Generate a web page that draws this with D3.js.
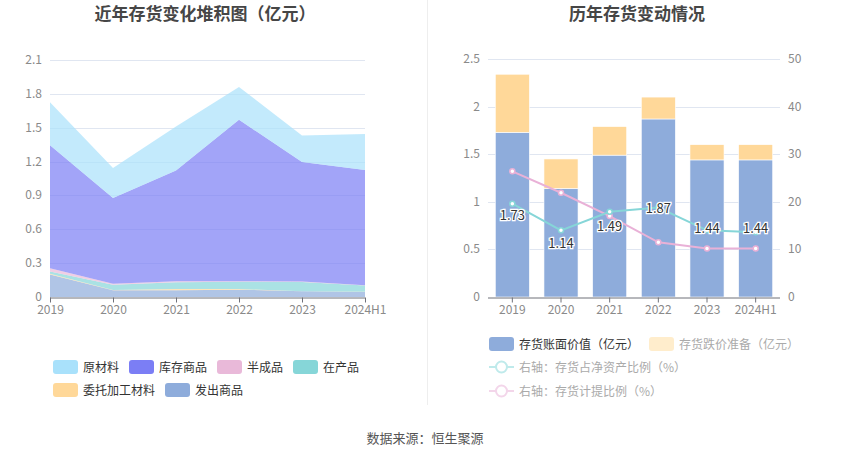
<!DOCTYPE html>
<html>
<head>
<meta charset="utf-8">
<script src="https://cdn.jsdelivr.net/npm/d3@7"></script>
<style>
  body { margin: 0; background: #fff; }
  svg text { font-family: "Noto Sans CJK SC", "Noto Sans", sans-serif; }
</style>
</head>
<body>
<div id="chart"></div>
<script>
// categories
var years = ["2019", "2020", "2021", "2022", "2023", "2024H1"];

// left chart: stacked inventory composition (亿元), bottom to top
var fachu = [0.20, 0.06, 0.06, 0.065, 0.05, 0.045];      // 发出商品
var weituo = [0.005, 0.003, 0.01, 0.005, 0.002, 0.002];  // 委托加工材料
var zaichan = [0.02, 0.045, 0.06, 0.065, 0.08, 0.055];   // 在产品
var banchengpin = [0.03, 0.01, 0.01, 0.005, 0.005, 0.003]; // 半成品
var kucun = [1.09, 0.76, 0.98, 1.43, 1.06, 1.02];        // 库存商品
var yuancailiao = [0.38, 0.265, 0.39, 0.29, 0.235, 0.32]; // 原材料
var leftTicks = [0, 0.3, 0.6, 0.9, 1.2, 1.5, 1.8, 2.1];

// right chart
var bookValue = [1.73, 1.14, 1.49, 1.87, 1.44, 1.44];    // 存货账面价值
var reserve = [0.61, 0.31, 0.30, 0.23, 0.16, 0.16];      // 存货跌价准备
var ratioNetAsset = [19.6, 14.0, 17.9, 18.8, 14.0, 13.6]; // 存货占净资产比例
var ratioReserve = [26.4, 21.9, 17.0, 11.5, 10.2, 10.2];  // 存货计提比例
var rightTicksL = [0, 0.5, 1, 1.5, 2, 2.5];
var rightTicksR = [0, 10, 20, 30, 40, 50];

var W = 850, H = 459;
var svg = d3.select("#chart").append("svg")
    .attr("width", W)
    .attr("height", H);

// titles
svg.append("text").attr("x", 205).attr("y", 20).attr("text-anchor", "middle")
  .style("font-size", "17px").style("font-weight", "bold").style("fill", "#464646")
  .text("近年存货变化堆积图（亿元）");
svg.append("text").attr("x", 637).attr("y", 20).attr("text-anchor", "middle")
  .style("font-size", "17px").style("font-weight", "bold").style("fill", "#464646")
  .text("历年存货变动情况");

// divider
svg.append("line").attr("x1", 427.5).attr("x2", 427.5).attr("y1", 0).attr("y2", 405)
  .style("stroke", "#eeeeee");

// ---------- left chart ----------
var series = [
  {name: "发出商品", color: "#8eacdb", values: fachu},
  {name: "委托加工材料", color: "#ffd899", values: weituo},
  {name: "在产品", color: "#86d6d8", values: zaichan},
  {name: "半成品", color: "#e9b9d9", values: banchengpin},
  {name: "库存商品", color: "#7b7ef5", values: kucun},
  {name: "原材料", color: "#a9e1fb", values: yuancailiao}
];

var table = years.map(function(y, i) {
  var row = {year: y};
  series.forEach(function(s) { row[s.name] = s.values[i]; });
  return row;
});

var stack = d3.stack().keys(series.map(function(s) { return s.name; }));
var stacked = stack(table);

var xL = d3.scalePoint().domain(years).range([50, 365]);
var yL = d3.scaleLinear().domain([0, 2.1]).range([297, 60]);

var gL = svg.append("g");

gL.selectAll(".gridL")
  .data(leftTicks.slice(1))
 .enter()
  .append("line")
  .attr("x1", 50).attr("x2", 365)
  .attr("y1", function(d) { return Math.round(yL(d)) + 0.5; })
  .attr("y2", function(d) { return Math.round(yL(d)) + 0.5; })
  .style("stroke", "#e0e6f1");

var area = d3.area()
  .x(function(d) { return xL(d.data.year); })
  .y0(function(d) { return yL(d[0]); })
  .y1(function(d) { return yL(d[1]); });

gL.selectAll(".layer")
  .data(stacked)
 .enter()
  .append("path")
  .attr("d", area)
  .style("fill", function(d, i) { return series[i].color; })
  .style("fill-opacity", 0.7);

gL.selectAll(".ylab")
  .data(leftTicks)
 .enter()
  .append("text")
  .attr("x", 42)
  .attr("y", function(d) { return yL(d) + 4; })
  .attr("text-anchor", "end")
  .style("font-size", "12px").style("fill", "#8a8a8a")
  .text(function(d) { return d; });

var xAxisL = d3.axisBottom(xL).tickSize(5).tickPadding(3);
gL.append("g")
  .attr("transform", "translate(0,297.5)")
  .call(xAxisL)
  .call(function(g) {
    g.select(".domain").style("stroke", "#6e7079").attr("d", "M50,0.5H365");
    g.selectAll(".tick line").style("stroke", "#6e7079");
    g.selectAll("text").style("font-size", "12px").style("fill", "#8a8a8a")
      .style("font-family", "'Noto Sans CJK SC', sans-serif");
  });

// left legend
var legL = [
  {name: "原材料", color: "#a9e1fb", x: 53, y: 367},
  {name: "库存商品", color: "#7b7ef5", x: 129, y: 367},
  {name: "半成品", color: "#e9b9d9", x: 217, y: 367},
  {name: "在产品", color: "#86d6d8", x: 293, y: 367},
  {name: "委托加工材料", color: "#ffd899", x: 53, y: 390},
  {name: "发出商品", color: "#8eacdb", x: 165, y: 390}
];
var lg = svg.selectAll(".legL").data(legL).enter().append("g");
lg.append("rect")
  .attr("x", function(d) { return d.x; })
  .attr("y", function(d) { return d.y - 7; })
  .attr("width", 25).attr("height", 14).attr("rx", 3)
  .style("fill", function(d) { return d.color; });
lg.append("text")
  .attr("x", function(d) { return d.x + 30; })
  .attr("y", function(d) { return d.y + 4.5; })
  .style("font-size", "12px").style("fill", "#333")
  .text(function(d) { return d.name; });

// ---------- right chart ----------
var xR = d3.scaleBand().domain(years).range([488, 780]).paddingInner(0.3).paddingOuter(0.15);
var xRc = function(y) { return xR(y) + xR.bandwidth() / 2; };
var yR = d3.scaleLinear().domain([0, 2.5]).range([297, 59]);
var yR2 = d3.scaleLinear().domain([0, 50]).range([297, 59]);

var gR = svg.append("g");

gR.selectAll(".gridR")
  .data(rightTicksL.slice(1))
 .enter()
  .append("line")
  .attr("x1", 488).attr("x2", 780)
  .attr("y1", function(d) { return Math.round(yR(d)) + 0.5; })
  .attr("y2", function(d) { return Math.round(yR(d)) + 0.5; })
  .style("stroke", "#e0e6f1");

gR.selectAll(".barBook")
  .data(bookValue)
 .enter()
  .append("rect")
  .attr("x", function(d, i) { return xR(years[i]); })
  .attr("width", xR.bandwidth())
  .attr("y", function(d) { return yR(d); })
  .attr("height", function(d) { return yR(0) - yR(d); })
  .style("fill", "#8eacdb")
  .style("stroke", "#fff").style("stroke-width", 0.6);

gR.selectAll(".barRes")
  .data(reserve)
 .enter()
  .append("rect")
  .attr("x", function(d, i) { return xR(years[i]); })
  .attr("width", xR.bandwidth())
  .attr("y", function(d, i) { return yR(bookValue[i] + d); })
  .attr("height", function(d, i) { return yR(bookValue[i]) - yR(bookValue[i] + d); })
  .style("fill", "#ffd899")
  .style("stroke", "#fff").style("stroke-width", 0.6);

var lineFn = d3.line()
  .x(function(d, i) { return xRc(years[i]); })
  .y(function(d) { return yR2(d); });

var lines = [
  {values: ratioReserve, color: "#e9b1d7"},
  {values: ratioNetAsset, color: "#86d6d8"}
];
lines.forEach(function(l) {
  gR.append("path")
    .attr("d", lineFn(l.values))
    .style("fill", "none").style("stroke", l.color).style("stroke-width", 2);
  gR.selectAll(null)
    .data(l.values)
   .enter()
    .append("circle")
    .attr("cx", function(d, i) { return xRc(years[i]); })
    .attr("cy", function(d) { return yR2(d); })
    .attr("r", 2.5)
    .style("fill", "#fff").style("stroke", l.color).style("stroke-width", 1.5);
});

// bar value labels (centred in bar)
gR.selectAll(".barLab")
  .data(bookValue)
 .enter()
  .append("text")
  .attr("x", function(d, i) { return xRc(years[i]); })
  .attr("y", function(d) { return yR(d / 2) + 5; })
  .attr("text-anchor", "middle")
  .style("font-size", "13px").style("fill", "#333")
  .style("stroke", "#fff").style("stroke-width", 2.5).style("paint-order", "stroke")
  .text(function(d) { return d.toFixed(2); });

gR.selectAll(".ylabL")
  .data(rightTicksL)
 .enter()
  .append("text")
  .attr("x", 480)
  .attr("y", function(d) { return yR(d) + 4; })
  .attr("text-anchor", "end")
  .style("font-size", "12px").style("fill", "#8a8a8a")
  .text(function(d) { return d; });

gR.selectAll(".ylabR")
  .data(rightTicksR)
 .enter()
  .append("text")
  .attr("x", 788)
  .attr("y", function(d) { return yR2(d) + 4; })
  .attr("text-anchor", "start")
  .style("font-size", "12px").style("fill", "#8a8a8a")
  .text(function(d) { return d; });

var xAxisR = d3.axisBottom(xR).tickSize(5).tickPadding(3);
gR.append("g")
  .attr("transform", "translate(0,297.5)")
  .call(xAxisR)
  .call(function(g) {
    g.select(".domain").style("stroke", "#6e7079").attr("d", "M488,0.5H780");
    g.selectAll(".tick line").style("stroke", "#6e7079");
    g.selectAll("text").style("font-size", "12px").style("fill", "#8a8a8a")
      .style("font-family", "'Noto Sans CJK SC', sans-serif");
  });

// right legend
svg.append("rect").attr("x", 489).attr("y", 337).attr("width", 25).attr("height", 14).attr("rx", 3)
  .style("fill", "#8eacdb");
svg.append("text").attr("x", 519).attr("y", 348.5).style("font-size", "12px").style("fill", "#333")
  .text("存货账面价值（亿元）");
svg.append("rect").attr("x", 649).attr("y", 337).attr("width", 25).attr("height", 14).attr("rx", 3)
  .style("fill", "#ffedcc");
svg.append("text").attr("x", 679).attr("y", 348.5).style("font-size", "12px").style("fill", "#aaa")
  .text("存货跌价准备（亿元）");

var legLines = [
  {name: "右轴：存货占净资产比例（%）", color: "#bfeaeb", y: 367},
  {name: "右轴：存货计提比例（%）", color: "#f3d6ea", y: 391}
];
var ll = svg.selectAll(".legLine").data(legLines).enter().append("g");
ll.append("line")
  .attr("x1", 489).attr("x2", 514)
  .attr("y1", function(d) { return d.y; }).attr("y2", function(d) { return d.y; })
  .style("stroke", function(d) { return d.color; }).style("stroke-width", 2);
ll.append("circle")
  .attr("cx", 501.5).attr("cy", function(d) { return d.y; }).attr("r", 5.5)
  .style("fill", "#fff").style("stroke", function(d) { return d.color; }).style("stroke-width", 2);
ll.append("text")
  .attr("x", 519).attr("y", function(d) { return d.y + 4.5; })
  .style("font-size", "12px").style("fill", "#aaa")
  .text(function(d) { return d.name; });

// source
svg.append("text").attr("x", 425).attr("y", 443).attr("text-anchor", "middle")
  .style("font-size", "13px").style("fill", "#555")
  .text("数据来源：恒生聚源");
</script>
</body>
</html>
